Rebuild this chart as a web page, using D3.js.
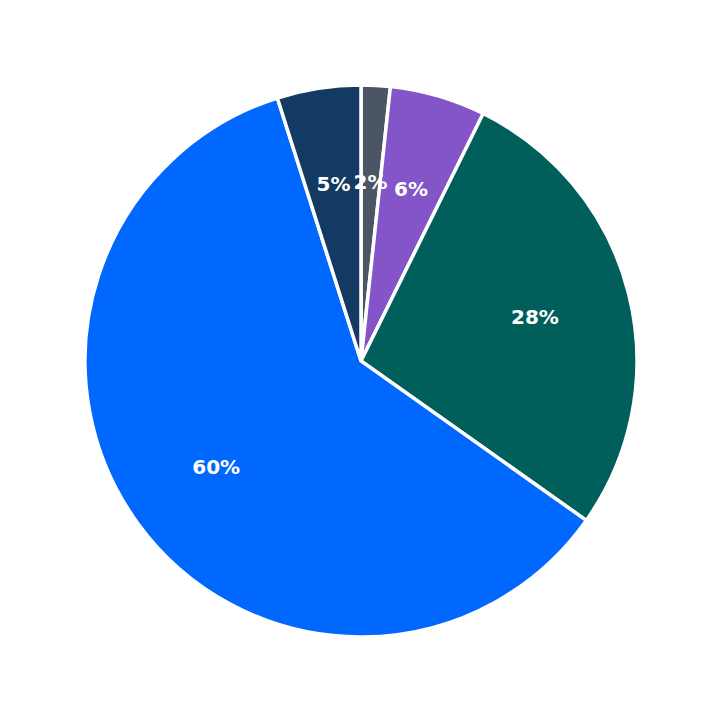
<!DOCTYPE html>
<html>
<head>
<meta charset="utf-8">
<script src="https://cdn.jsdelivr.net/npm/d3@7"></script>
<style>body{margin:0;background:#fff;}</style>
</head>
<body>
<svg id="chart" width="723" height="723"></svg>
<script>
const categories = ['A', 'B', 'C', 'D', 'E'];
const values = [1.7, 5.6, 27.5, 60.3, 4.9];
const labels = ['2%', '6%', '28%', '60%', '5%'];
const colors = ['#4b5563', '#8455c8', '#005f5b', '#0068ff', '#133a63'];

const radius = 276;
const svg = d3.select('#chart');
const g = svg.append('g').attr('transform', 'translate(361,361)');

const pie = d3.pie().sort(null).value(d => d.v);
const arcs = pie(values.map((v, i) => ({v, i})));
const arc = d3.arc().innerRadius(0).outerRadius(radius);
const labelArc = d3.arc().innerRadius(radius * 0.65).outerRadius(radius * 0.65);

g.selectAll('path').data(arcs).enter().append('path')
  .attr('d', arc)
  .attr('fill', d => colors[d.data.i])
  .attr('stroke', '#fff')
  .attr('stroke-width', 3.5);

g.selectAll('text').data(arcs).enter().append('text')
  .attr('transform', d => 'translate(' + labelArc.centroid(d) + ')')
  .attr('text-anchor', 'middle')
  .attr('dy', '0.35em')
  .attr('fill', '#fff')
  .style('font-family', 'DejaVu Sans')
  .style('font-weight', 'bold')
  .style('font-size', '20px')
  .text(d => labels[d.data.i]);
</script>
</body>
</html>
